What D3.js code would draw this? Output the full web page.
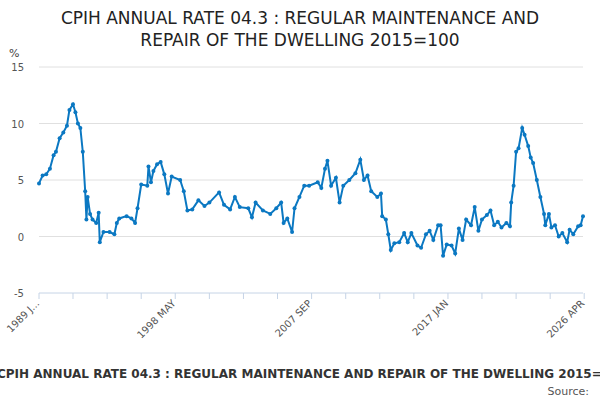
<!DOCTYPE html>
<html><head><meta charset="utf-8">
<script src="https://cdn.jsdelivr.net/npm/d3@7"></script>
<style>body{margin:0;background:#fff;font-family:"DejaVu Sans",sans-serif}</style>
</head><body><div id="chart"></div>
<script>
var months = ["1989-01","1989-04","1989-07","1989-10","1990-01","1990-03","1990-06","1990-09","1990-12","1991-02","1991-05","1991-07","1991-09","1991-11","1992-01","1992-03","1992-04","1992-05","1992-07","1992-09","1992-12","1993-02","1993-03","1993-06","1993-11","1994-03","1994-05","1994-07","1995-01","1995-05","1995-08","1995-10","1996-01","1996-06","1996-07","1996-09","1996-11","1997-02","1997-05","1997-08","1997-11","1998-02","1998-09","1998-12","1999-03","1999-07","1999-12","2000-05","2000-09","2001-05","2001-09","2002-02","2002-06","2002-10","2003-05","2003-08","2003-11","2004-05","2004-11","2005-04","2005-08","2005-10","2006-01","2006-05","2006-07","2006-11","2007-03","2007-07","2008-02","2008-05","2008-08","2008-10","2009-01","2009-05","2009-08","2009-11","2010-04","2010-09","2011-01","2011-04","2011-07","2011-10","2012-03","2012-06","2012-07","2012-10","2012-12","2013-02","2013-05","2013-09","2014-01","2014-04","2014-07","2014-12","2015-03","2015-07","2015-10","2016-01","2016-05","2016-07","2016-09","2016-12","2017-04","2017-07","2017-10","2018-01","2018-04","2018-08","2018-11","2019-02","2019-05","2019-09","2019-12","2020-03","2020-06","2020-09","2021-01","2021-04","2021-05","2021-07","2021-09","2021-11","2022-02","2022-04","2022-07","2022-09","2022-11","2023-02","2023-05","2023-08","2023-09","2023-12","2024-02","2024-05","2024-08","2024-11","2025-03","2025-05","2025-08","2025-12","2026-02","2026-04"];
var rates = [4.7,5.4,5.5,6.0,7.2,7.5,8.7,9.2,9.8,11.2,11.7,11.0,10.0,9.6,7.5,4.0,1.5,3.5,2.0,1.5,1.2,2.1,-0.5,0.4,0.4,0.2,1.2,1.6,1.8,1.6,1.2,2.5,4.6,4.5,6.2,4.8,5.8,6.4,6.6,5.5,3.8,5.3,5.0,4.0,2.3,2.4,3.2,2.7,3.0,3.9,2.8,2.4,3.5,2.6,2.5,1.7,3.0,2.3,2.0,2.5,3.0,1.2,1.6,0.4,2.5,3.5,4.5,4.5,4.8,4.3,6.0,6.7,4.5,5.2,3.0,4.5,5.0,5.6,6.8,5.0,5.4,4.0,3.5,3.8,1.8,1.5,0.2,-1.2,-0.6,-0.5,0.3,-0.5,0.3,-0.8,-1.0,0.2,0.5,-0.3,1.0,1.0,-1.7,-0.7,-0.8,-1.5,0.7,-0.3,1.5,1.0,2.6,0.5,1.5,1.9,2.3,1.0,1.3,0.8,1.2,0.9,3.0,4.5,7.5,7.8,9.6,9.0,8.0,7.0,6.5,5.0,3.5,2.0,1.0,2.0,0.8,1.0,0.0,0.3,-0.5,0.6,0.2,0.9,1.0,1.8];
var yTicks = [-5,0,5,10,15];
var xTickLabels = ["1989 J...","1998 MAY","2007 SEP","2017 JAN","2026 APR"];

var parse = d3.timeParse("%Y-%m");
var data = months.map(function(m,i){ return {date: parse(m), v: rates[i]}; });

var W = 600, H = 400;
var svg = d3.select("#chart").append("svg").attr("width",W).attr("height",H);

var x = d3.scaleTime().domain([parse("1989-01"), parse("2026-04")]).range([39,583]);
var y = d3.scaleLinear().domain([-5,15]).range([293,67]);

svg.append("text").attr("x",300).attr("y",24).attr("text-anchor","middle")
  .attr("font-size",17).attr("fill","#222").text("CPIH ANNUAL RATE 04.3 : REGULAR MAINTENANCE AND");
svg.append("text").attr("x",300).attr("y",46).attr("text-anchor","middle")
  .attr("font-size",17).attr("fill","#222").text("REPAIR OF THE DWELLING 2015=100");

svg.append("text").attr("x",9).attr("y",57).attr("font-size",11).attr("fill","#444").text("%");

svg.selectAll(".grid").data(yTicks.filter(function(t){return t>-5;})).enter().append("line")
  .attr("x1",39).attr("x2",583).attr("y1",function(d){return y(d);}).attr("y2",function(d){return y(d);})
  .attr("stroke","#e0e0e0");
svg.selectAll(".ylab").data(yTicks).enter().append("text")
  .attr("x",24).attr("y",function(d){return y(d)+4;}).attr("text-anchor","end")
  .attr("font-size",10).attr("fill","#555").text(function(d){return d;});

// x axis: ticks every 28 months, labels every 112
var tickDates = d3.range(0,17).map(function(i){ return d3.timeMonth.offset(parse("1989-01"), i*28); });
svg.append("line").attr("x1",39).attr("x2",583).attr("y1",293).attr("y2",293).attr("stroke","#c6d4e6");
svg.selectAll(".xt").data(tickDates).enter().append("line")
  .attr("x1",function(d){return x(d);}).attr("x2",function(d){return x(d);})
  .attr("y1",293).attr("y2",299).attr("stroke","#c6d4e6");
svg.selectAll(".xl").data(xTickLabels).enter().append("text")
  .attr("transform",function(d,i){ return "translate("+(x(tickDates[i*4])+1)+",304) rotate(-45)"; })
  .attr("text-anchor","end").attr("font-size",10).attr("fill","#555").text(function(d){return d;});

var line = d3.line().x(function(d){return x(d.date);}).y(function(d){return y(d.v);});
svg.append("path").datum(data).attr("d",line).attr("fill","none").attr("stroke","#0b78c2").attr("stroke-width",2);
svg.selectAll(".pt").data(data).enter().append("circle")
  .attr("cx",function(d){return x(d.date);}).attr("cy",function(d){return y(d.v);})
  .attr("r",2).attr("fill","#0b78c2");

svg.append("text").attr("x",-3).attr("y",378).attr("text-anchor","start")
  .attr("font-size",12).attr("font-weight","bold").attr("fill","#333")
  .text("CPIH ANNUAL RATE 04.3 : REGULAR MAINTENANCE AND REPAIR OF THE DWELLING 2015=100");
svg.append("text").attr("x",589).attr("y",395).attr("text-anchor","end")
  .attr("font-size",11).attr("fill","#555").text("Source:");
</script></body></html>
